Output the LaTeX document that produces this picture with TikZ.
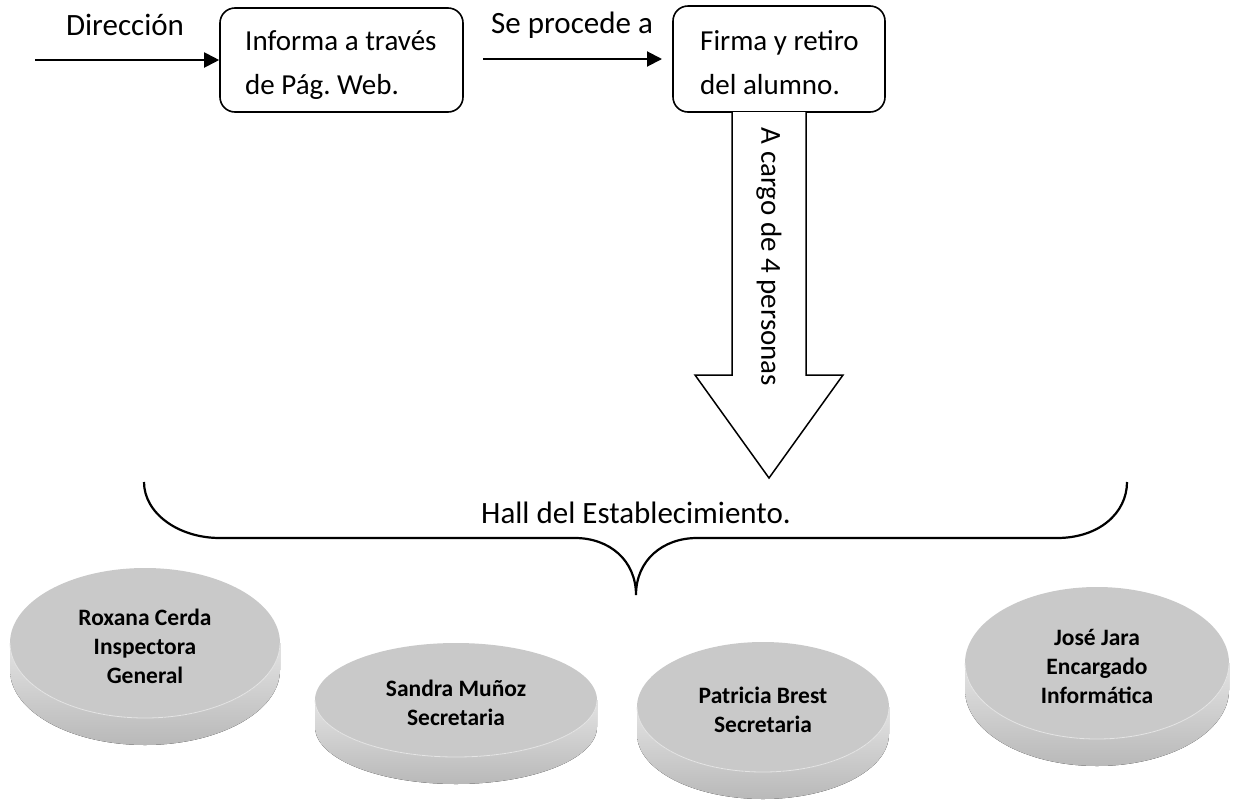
\documentclass[tikz,border=0pt]{standalone}
\usepackage{fontspec}
\setmainfont{Carlito}
\usetikzlibrary{arrows.meta}
\frenchspacing
\newcommand\mydisk[7]{%
  \fill[top color=gray!22, bottom color=gray!55] (#2-#4,#3) -- (#2-#4,#3+#6)
    arc[start angle=180,end angle=0,x radius=#4,y radius=#5] -- (#2+#4,#3)
    arc[start angle=0,end angle=180,x radius=#4,y radius=#5] -- cycle;
  \fill[gray!42] (#2,#3) ellipse[x radius=#4, y radius=#5];
  \draw[gray!20, line width=0.8pt] (#2-#4,#3) arc[start angle=180,end angle=0,x radius=#4,y radius=#5];
  \node[dtext] (#1) at (#2,#3+3) {#7};
}
\begin{document}
\begin{tikzpicture}[x=1pt,y=-1pt,
  lbl/.style={font=\fontsize{31}{44}\selectfont, inner sep=0},
  boxtxt/.style={font=\fontsize{29}{44}\selectfont, inner sep=0, align=left},
  box/.style={draw, line width=1.6pt, rounded corners=15pt, inner sep=0},
  arr/.style={line width=2pt, -{Triangle[length=15pt,width=15pt]}},
  dtext/.style={font=\bfseries\fontsize{23.5}{29}\selectfont, align=center, inner sep=0},
]
\useasboundingbox (0,0) rectangle (1240,801);

% top boxes
\node[box, minimum width=243pt, minimum height=104pt] (b1) at (341.5,60) {};
\node[box, minimum width=212pt, minimum height=106pt] (b2) at (779,59) {};
\node[boxtxt, anchor=base west] (t1) at (245,94) {Informa a través\\de Pág. Web.};
\node[boxtxt, anchor=base west] (t2) at (700,94) {Firma y retiro\\del alumno.};

% labels and arrows
\node[lbl, anchor=base] (dir) at (125,35) {Dirección};
\node[lbl, anchor=base] (proc) at (572,33) {Se procede a};
\coordinate (s1) at (35,60);
\draw[arr] (s1) -- (b1.west);
\coordinate (s2) at (483,59);
\coordinate (e2) at (662,59);
\draw[arr] (s2) -- (e2);

% big block arrow
\draw[line width=1.5pt, fill=white] (732,112) -- (732,375) -- (695,375) -- (769,478) -- (843,375) -- (806,375) -- (806,112);
\node[boxtxt, rotate=-90] (cargo) at (769,257) {A cargo de 4 personas};

% brace
\draw[line width=2.2pt] (144,482) .. controls (144,513) and (178,538) .. (220,538) -- (575,538)
  .. controls (609,538) and (636,560) .. (636,595)
  .. controls (636,560) and (663,538) .. (697,538) -- (1057,538)
  .. controls (1099,538) and (1127,513) .. (1127,482);
\node[lbl, anchor=base] (hall) at (636,523) {Hall del Establecimiento.};

% disks
\mydisk{d1}{145}{643}{135}{75}{27}{Roxana Cerda\\Inspectora\\General}
\mydisk{d2}{456}{700}{141}{57}{27}{Sandra Muñoz\\Secretaria}
\mydisk{d3}{763}{707}{126}{65}{27}{Patricia Brest\\Secretaria}
\mydisk{d4}{1097}{663}{132}{76}{27}{José Jara\\Encargado\\Informática}
\end{tikzpicture}
\end{document}
